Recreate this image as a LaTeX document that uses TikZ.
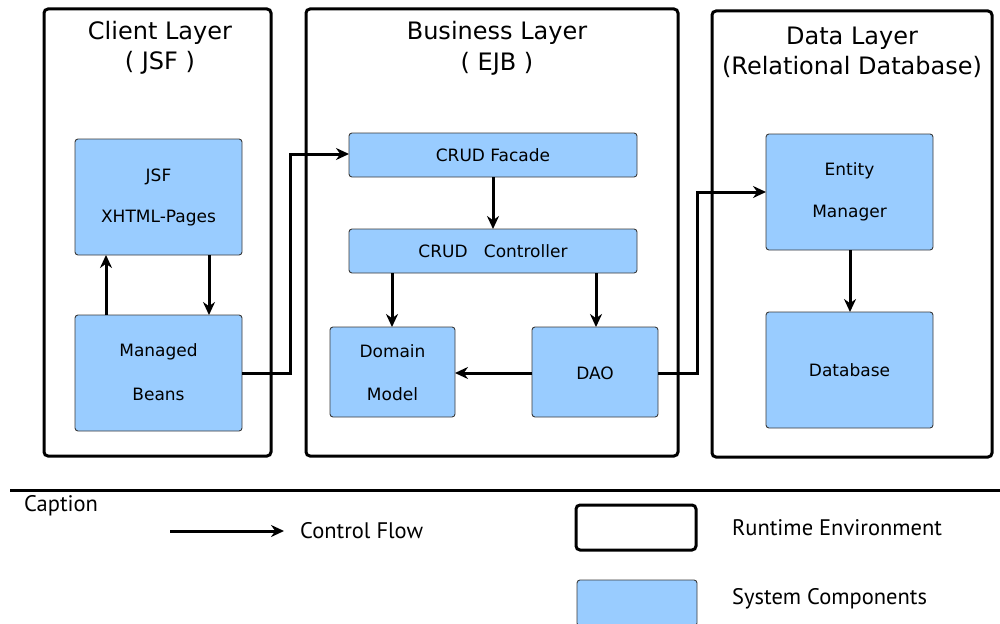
\documentclass[tikz,border=0pt]{standalone}
\usepackage{fontspec}
\setmainfont{DejaVu Sans}
\newfontfamily\legendfont{PT Sans}
\usetikzlibrary{arrows.meta}
\definecolor{compfill}{HTML}{99CCFF}
\definecolor{compline}{HTML}{3A3A3A}
\tikzset{
  layerbox/.style={draw=black, line width=3pt, rounded corners=4pt, fill=white},
  compbox/.style={draw=compline, line width=0.9pt, rounded corners=3pt, fill=compfill},
  flow/.style={draw=black, line width=3pt, -{Stealth[length=13pt,width=12pt]}},
  ttl/.style={font=\fontsize{24}{28}\selectfont, align=center, inner sep=0pt},
  ctext/.style={font=\fontsize{17}{20}\selectfont, inner sep=0pt},
  ltext/.style={font=\legendfont\fontsize{22.5}{26}\selectfont, anchor=west, inner sep=0pt}
}
\begin{document}
\begin{tikzpicture}[x=1pt,y=-1pt]
\useasboundingbox (0,0) rectangle (1000,623);

% runtime environments
\draw[layerbox] (44,9) rectangle (271,456);
\draw[layerbox] (306,9) rectangle (678,456);
\draw[layerbox] (712,11) rectangle (992,457);

\node[ttl] (tclient) at (160,33) {Client Layer};
\node[ttl] (tclient2) at (160,63) {( JSF )};
\node[ttl] (tbiz) at (497,33) {Business Layer};
\node[ttl] (tbiz2) at (497,64) {( EJB )};
\node[ttl] (tdata) at (852,38) {Data Layer};
\node[ttl] (tdata2) at (852,67) {(Relational Database)};

% system components
\draw[compbox] (75,139) rectangle (242,255);
\node[ctext] (jsf1) at (158.5,177) {JSF};
\node[ctext] (jsf2) at (158.5,218) {XHTML-Pages};

\draw[compbox] (75,315) rectangle (242,431);
\node[ctext] (mb1) at (158.5,352) {Managed};
\node[ctext] (mb2) at (158.5,394) {Beans};

\draw[compbox] (349,133) rectangle (637,177);
\node[ctext] (facade) at (493,155) {CRUD Facade};

\draw[compbox] (349,229) rectangle (637,273);
\node[ctext] (ctrl) at (493,251) {CRUD\ \ \ Controller};

\draw[compbox] (330,327) rectangle (455,417);
\node[ctext] (dm1) at (392.5,351) {Domain};
\node[ctext] (dm2) at (392.5,394) {Model};

\draw[compbox] (532,327) rectangle (658,417);
\node[ctext] (dao) at (595,373) {DAO};

\draw[compbox] (766,134) rectangle (933,250);
\node[ctext] (em1) at (849.5,171) {Entity};
\node[ctext] (em2) at (849.5,213) {Manager};

\draw[compbox] (766,312) rectangle (933,428);
\node[ctext] (db) at (849.5,370) {Database};

% anchor points on component borders
\coordinate (jsfB1) at (106,255);
\coordinate (jsfB2) at (209,255);
\coordinate (mbT1) at (106,315);
\coordinate (mbT2) at (209,315);
\coordinate (mbR) at (242,373);
\coordinate (facL) at (349,154);
\coordinate (facB) at (493,177);
\coordinate (ctlT) at (493,229);
\coordinate (ctlB1) at (392,273);
\coordinate (ctlB2) at (596,273);
\coordinate (dmT) at (392,327);
\coordinate (dmR) at (455,373);
\coordinate (daoT) at (596,327);
\coordinate (daoL) at (532,373);
\coordinate (daoR) at (658,373);
\coordinate (emL) at (766,192);
\coordinate (emB) at (850,250);
\coordinate (dbT) at (850,312);

% control flow
\draw[flow] (mbT1) -- (jsfB1);
\draw[flow] (jsfB2) -- (mbT2);
\draw[flow] (mbR) -- (290,373) -- (290,154) -- (facL);
\draw[flow] (facB) -- (ctlT);
\draw[flow] (ctlB1) -- (dmT);
\draw[flow] (ctlB2) -- (daoT);
\draw[flow] (daoL) -- (dmR);
\draw[flow] (daoR) -- (697,373) -- (697,192) -- (emL);
\draw[flow] (emB) -- (dbT);

% caption
\coordinate (sepL) at (10,490);
\coordinate (sepR) at (1000,490);
\draw[line width=3pt] (sepL) -- (sepR);
\node[ltext] (cap) at (24,506) {Caption};
\coordinate (legA) at (170,531);
\coordinate (legB) at (284,531);
\draw[flow] (legA) -- (legB);
\node[ltext] (legflow) at (300,531) {Control Flow};
\draw[layerbox] (576,505) rectangle (696,550);
\node[ltext] (legrt) at (732,528) {Runtime Environment};
\draw[compbox] (577,580) rectangle (697,626);
\node[ltext] (legsc) at (732,599) {System Components};
\end{tikzpicture}
\end{document}
